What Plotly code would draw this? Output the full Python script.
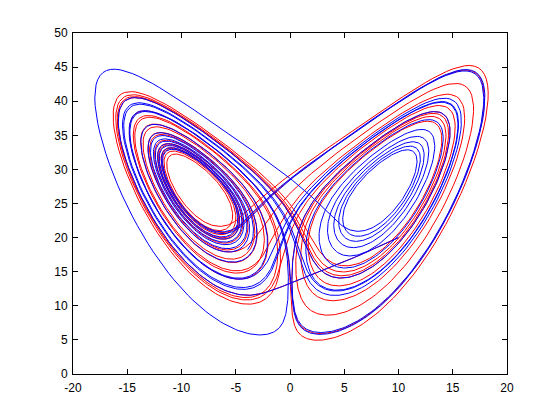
import numpy as np
import plotly.graph_objects as go

# Lorenz system parameters and initial conditions (the curves are trajectories of this system)
SIGMA = 10.0
RHO = 28.0
BETA = 8.0 / 3.0
blue_start = [10.0, -10.0, 20.0]
red_start = [10.0, -10.01, 20.0]
t_end = 20.0
dt = 0.005

x_ticks = [-20, -15, -10, -5, 0, 5, 10, 15, 20]
y_ticks = [0, 5, 10, 15, 20, 25, 30, 35, 40, 45, 50]


def deriv(s):
    x, y, z = s
    return np.array([SIGMA * (y - x), x * (RHO - z) - y, x * y - BETA * z])


def trajectory(start):
    n = int(t_end / dt)
    out = np.empty((n + 1, 3))
    s = np.array(start, dtype=float)
    out[0] = s
    for i in range(n):
        k1 = deriv(s)
        k2 = deriv(s + 0.5 * dt * k1)
        k3 = deriv(s + 0.5 * dt * k2)
        k4 = deriv(s + dt * k3)
        s = s + dt / 6.0 * (k1 + 2 * k2 + 2 * k3 + k4)
        out[i + 1] = s
    return out


blue = trajectory(blue_start)
red = trajectory(red_start)

fig = go.Figure()
fig.add_trace(go.Scatter(x=red[:, 0], y=red[:, 2], mode="lines",
                         line=dict(color="#ff0000", width=1), showlegend=False))
fig.add_trace(go.Scatter(x=blue[:, 0], y=blue[:, 2], mode="lines",
                         line=dict(color="#0000ff", width=1), showlegend=False))

axis_common = dict(showgrid=False, zeroline=False, showline=True, linecolor="black",
                   linewidth=1, mirror="ticks", ticks="inside", ticklen=5,
                   tickcolor="black", tickfont=dict(family="Liberation Sans, Arial", size=12, color="black"))
fig.update_xaxes(range=[-20, 20], tickvals=x_ticks, ticktext=[str(v) for v in x_ticks],
                 ticklabelstandoff=3, **axis_common)
fig.update_yaxes(range=[0, 50], tickvals=y_ticks, ticktext=[str(v) for v in y_ticks],
                 ticklabelstandoff=2, **axis_common)
fig.update_layout(width=560, height=420, margin=dict(l=65, r=61, t=25, b=54),
                  paper_bgcolor="white", plot_bgcolor="white")
fig.write_html("out.html")
